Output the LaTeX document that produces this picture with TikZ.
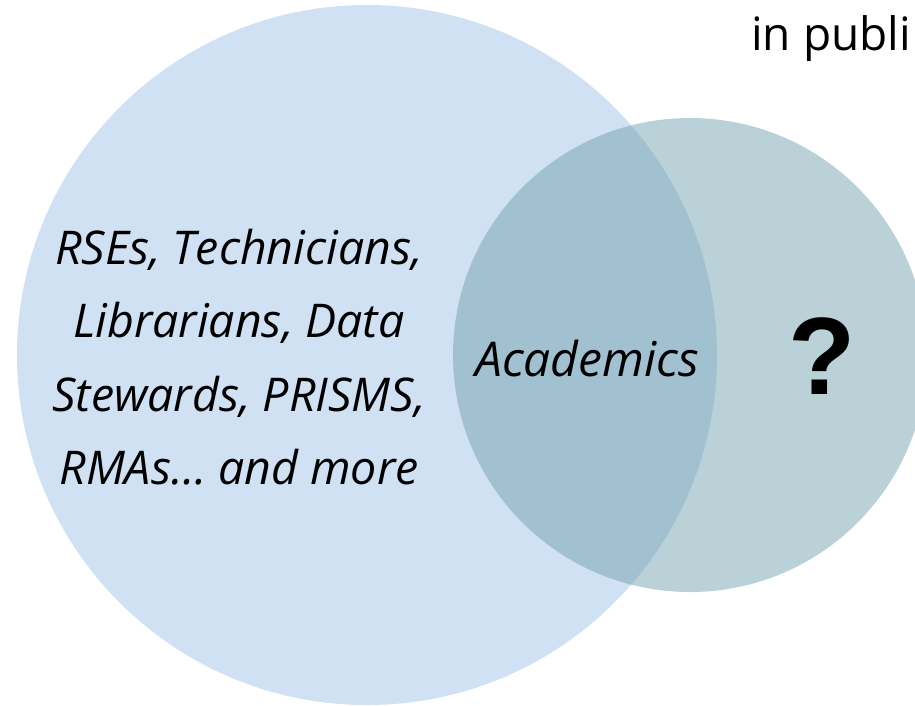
\documentclass[tikz,border=0pt]{standalone}
\usepackage{fontspec}
\setmainfont{Open Sans}
\newfontfamily\qfont{Liberation Sans}
\definecolor{bigblue}{RGB}{207,225,242}
\definecolor{smallteal}{RGB}{117,163,177}
\tikzset{
  lbl/.style={align=center, inner sep=0pt, font=\fontsize{46.5}{73.5}\selectfont\itshape},
}
\begin{document}
\begin{tikzpicture}[x=1pt,y=-1pt]
\useasboundingbox (0,0) rectangle (915,705);
\clip (0,0) rectangle (915,705);
\fill[bigblue] (367,355) circle[radius=350];
\fill[smallteal, fill opacity=0.5] (690,355) circle[radius=237];
\node[lbl] (roles) at (239,357) {RSEs, Technicians,\\Librarians, Data\\Stewards, PRISMS,\\RMAs\dots{} and more};
\node[lbl, font=\fontsize{48}{74}\selectfont\itshape] (acad) at (587,358) {Academics};
\node[inner sep=0pt, font=\qfont\bfseries\fontsize{110}{110}\selectfont] (q) at (822,356) {?};
\node[anchor=base west, inner sep=0pt, font=\fontsize{46}{52}\selectfont] (pub) at (751,50) {in publi};
\end{tikzpicture}
\end{document}
